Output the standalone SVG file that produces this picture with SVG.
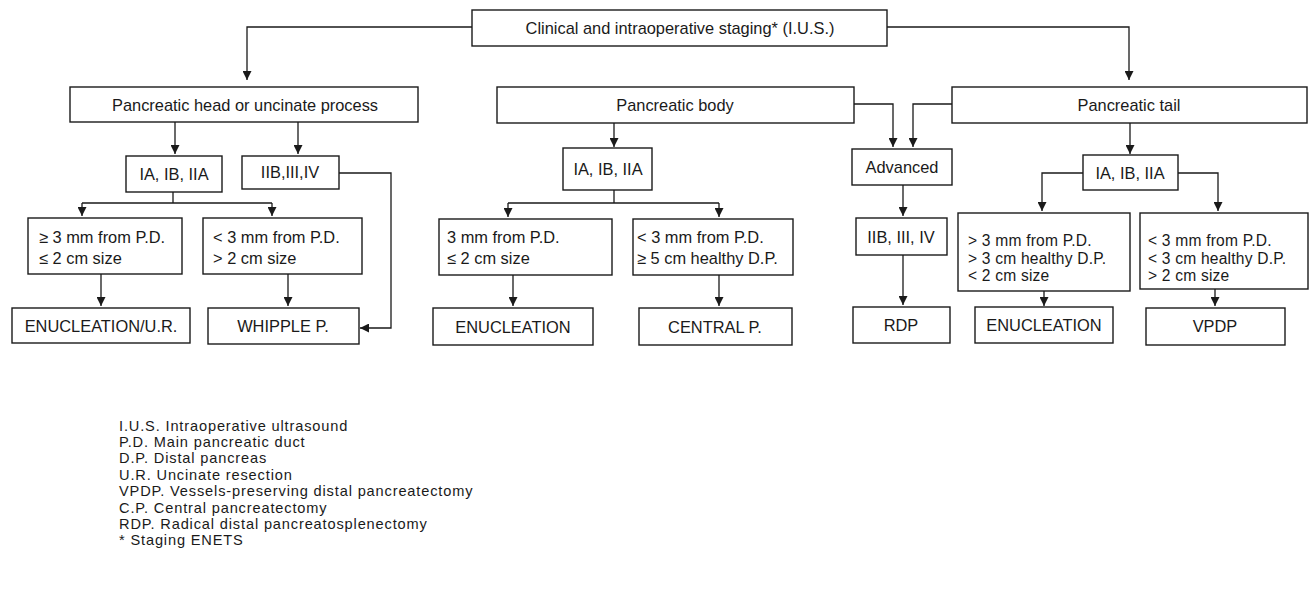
<svg xmlns="http://www.w3.org/2000/svg" width="1309" height="592" viewBox="0 0 1309 592">
<defs>
<marker id="arr" viewBox="0 0 10 10" refX="10" refY="5" markerWidth="9" markerHeight="9" markerUnits="userSpaceOnUse" orient="auto">
<path d="M0,0 L10,5 L0,10 z" fill="#1a1a1a"/>
</marker>
<style>
.box{fill:#fff;stroke:#1a1a1a;stroke-width:1.4}
.t{font-family:"Liberation Sans",Arial,sans-serif;font-size:16.4px;fill:#1a1a1a}
.s{font-size:15.6px;letter-spacing:0.2px}
.c{text-anchor:middle}
.ln{fill:none;stroke:#1a1a1a;stroke-width:1.3}
.a{marker-end:url(#arr)}
.lg{font-family:"Liberation Sans",Arial,sans-serif;font-size:14.6px;letter-spacing:0.85px;fill:#1a1a1a}
</style>
</defs>
<rect width="1309" height="592" fill="#fff"/>
<g id="connectors">
<path class="ln a" d="M472,27 H247 V80"/>
<path class="ln a" d="M887,27 H1129 V80"/>
<path class="ln a" d="M175,122 V154"/>
<path class="ln a" d="M298,122 V154"/>
<path class="ln" d="M173,192 V203 M82,203 H272"/>
<path class="ln a" d="M82,203 V216"/>
<path class="ln a" d="M272,203 V216"/>
<path class="ln a" d="M101,274 V306"/>
<path class="ln a" d="M288,274 V306"/>
<path class="ln a" d="M339,173 H391 V328 H360"/>
<path class="ln a" d="M614,123 V147"/>
<path class="ln" d="M614,190 V203 M508,203 H719"/>
<path class="ln a" d="M508,203 V217"/>
<path class="ln a" d="M719,203 V217"/>
<path class="ln a" d="M513,275 V306"/>
<path class="ln a" d="M719,275 V306"/>
<path class="ln a" d="M854,104 H893 V147"/>
<path class="ln a" d="M952,104 H913 V147"/>
<path class="ln a" d="M903,185 V216"/>
<path class="ln a" d="M903,255 V305"/>
<path class="ln a" d="M1130,123 V154"/>
<path class="ln a" d="M1083,173 H1042 V211"/>
<path class="ln a" d="M1178,173 H1218 V211"/>
<path class="ln a" d="M1044,291 V306"/>
<path class="ln a" d="M1215,289 V306"/>
</g>
<g id="n-top"><rect class="box" x="472" y="10" width="415" height="36"/><text class="t c" x="680" y="34">Clinical and intraoperative staging* (I.U.S.)</text></g>
<g id="n-head"><rect class="box" x="70" y="87" width="348" height="35"/><text class="t c" x="245" y="111">Pancreatic head or uncinate process</text></g>
<g id="n-body"><rect class="box" x="497" y="87" width="357" height="36"/><text class="t c" x="675" y="111">Pancreatic body</text></g>
<g id="n-tail"><rect class="box" x="952" y="87" width="355" height="36"/><text class="t c" x="1129" y="111">Pancreatic tail</text></g>
<g id="n-head-ia"><rect class="box" x="126" y="156" width="96" height="36"/><text class="t c" x="174" y="180">IA, IB, IIA</text></g>
<g id="n-head-iib"><rect class="box" x="242" y="156" width="97" height="33"/><text class="t c" x="290" y="178">IIB,III,IV</text></g>
<g id="n-head-c1"><rect class="box" x="28" y="218" width="154" height="56"/><text class="t" x="39" y="243">≥ 3 mm from P.D.</text><text class="t" x="39" y="264">≤ 2 cm size</text></g>
<g id="n-head-c2"><rect class="box" x="203" y="218" width="159" height="56"/><text class="t" x="213" y="243">&lt; 3 mm from P.D.</text><text class="t" x="213" y="264">&gt; 2 cm size</text></g>
<g id="n-enuc-ur"><rect class="box" x="12" y="308" width="178" height="35"/><text class="t c" x="101" y="332">ENUCLEATION/U.R.</text></g>
<g id="n-whipple"><rect class="box" x="208" y="308" width="151" height="36"/><text class="t c" x="283" y="332">WHIPPLE P.</text></g>
<g id="n-body-ia"><rect class="box" x="563" y="148" width="89" height="42"/><text class="t c" x="608" y="175">IA, IB, IIA</text></g>
<g id="n-body-c1"><rect class="box" x="439" y="219" width="173" height="56"/><text class="t" x="447" y="243">3 mm from P.D.</text><text class="t" x="447" y="264">≤ 2 cm size</text></g>
<g id="n-body-c2"><rect class="box" x="633" y="219" width="160" height="56"/><text class="t" x="637" y="243">&lt; 3 mm from P.D.</text><text class="t" x="637" y="264">≥ 5 cm healthy D.P.</text></g>
<g id="n-enuc-body"><rect class="box" x="433" y="308" width="160" height="37"/><text class="t c" x="513" y="333">ENUCLEATION</text></g>
<g id="n-central"><rect class="box" x="639" y="308" width="153" height="37"/><text class="t c" x="715" y="333">CENTRAL P.</text></g>
<g id="n-advanced"><rect class="box" x="852" y="149" width="100" height="36"/><text class="t c" x="902" y="173">Advanced</text></g>
<g id="n-adv-stage"><rect class="box" x="856" y="218" width="91" height="37"/><text class="t c" x="901" y="243">IIB, III, IV</text></g>
<g id="n-rdp"><rect class="box" x="853" y="307" width="97" height="36"/><text class="t c" x="901" y="331">RDP</text></g>
<g id="n-tail-ia"><rect class="box" x="1083" y="155" width="95" height="35"/><text class="t c" x="1130" y="179">IA, IB, IIA</text></g>
<g id="n-tail-c1"><rect class="box" x="958" y="213" width="172" height="78"/><text class="t s" x="968" y="246">&gt; 3 mm from P.D.</text><text class="t s" x="968" y="263.5">&gt; 3 cm healthy D.P.</text><text class="t s" x="968" y="281">&lt; 2 cm size</text></g>
<g id="n-tail-c2"><rect class="box" x="1140" y="213" width="168" height="76"/><text class="t s" x="1148" y="246">&lt; 3 mm from P.D.</text><text class="t s" x="1148" y="263.5">&lt; 3 cm healthy D.P.</text><text class="t s" x="1148" y="281">&gt; 2 cm size</text></g>
<g id="n-enuc-tail"><rect class="box" x="975" y="307" width="138" height="36"/><text class="t c" x="1044" y="331">ENUCLEATION</text></g>
<g id="n-vpdp"><rect class="box" x="1146" y="308" width="139" height="37"/><text class="t c" x="1215" y="332">VPDP</text></g>
<g id="legend">
<text class="lg" x="119" y="430.5">I.U.S. Intraoperative ultrasound</text>
<text class="lg" x="119" y="446.9">P.D. Main pancreatic duct</text>
<text class="lg" x="119" y="463.3">D.P. Distal pancreas</text>
<text class="lg" x="119" y="479.7">U.R. Uncinate resection</text>
<text class="lg" x="119" y="496.1">VPDP. Vessels-preserving distal pancreatectomy</text>
<text class="lg" x="119" y="512.5">C.P. Central pancreatectomy</text>
<text class="lg" x="119" y="528.9">RDP. Radical distal pancreatosplenectomy</text>
<text class="lg" x="119" y="545.3">* Staging ENETS</text>
</g>
</svg>
